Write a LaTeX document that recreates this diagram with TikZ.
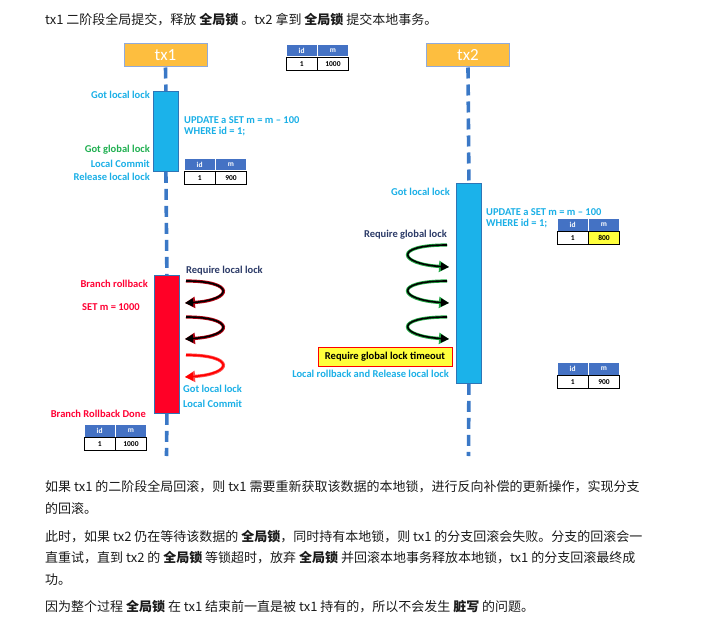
\documentclass[tikz,border=0pt]{standalone}
\usepackage{fontspec}
\setmainfont{Carlito}
\newfontfamily\cjk{Noto Sans CJK SC}
\usetikzlibrary{arrows.meta}
\definecolor{txorange}{HTML}{FDBE3F}
\definecolor{txline}{HTML}{8FAADC}
\definecolor{lifeblue}{HTML}{3A78C6}
\definecolor{barblue}{HTML}{1BB2EA}
\definecolor{barline}{HTML}{2E75B6}
\definecolor{barred}{HTML}{FF0026}
\definecolor{ltblue}{HTML}{1AAFE6}
\definecolor{okgreen}{HTML}{1FAF50}
\definecolor{navy}{HTML}{2B3A67}
\definecolor{txtred}{HTML}{FF0033}
\definecolor{hdrblue}{HTML}{4472C4}
\definecolor{hlyellow}{HTML}{FFFF3C}
\definecolor{glowgreen}{HTML}{22A845}
\definecolor{glowred}{HTML}{B00010}
\definecolor{cjkgray}{HTML}{1A1A1A}
\newcommand{\dtab}[5]{%
  \node[hcell] (#1h1) at (#2,#3) {id};
  \node[hcell] (#1h2) at (#1h1.north east) {m};
  \node[dcell] (#1d1) at (#1h1.south west) {1};
  \node[dcell, fill=#5] (#1d2) at (#1d1.north east) {#4};
}
\begin{document}
\begin{tikzpicture}[x=1pt,y=-1pt,
  txbox/.style={draw=txline, fill=txorange, line width=1pt, minimum width=83pt, minimum height=23pt, inner sep=0pt, text=white, font=\fontsize{17}{19}\selectfont},
  bluebar/.style={draw=barline, fill=barblue, line width=0.8pt, minimum width=25pt, inner sep=0pt, anchor=north west},
  redbar/.style={draw=barline, fill=barred, line width=0.8pt, minimum width=25pt, inner sep=0pt, anchor=north west},
  lifeline/.style={draw=lifeblue, line width=3.6pt, dash pattern=on 11pt off 6pt},
  lbl/.style={inner sep=0pt, font=\bfseries\fontsize{10.5}{12}\selectfont},
  hcell/.style={fill=hdrblue, draw=white, line width=0.8pt, text=white, minimum width=30.5pt, minimum height=12.5pt, inner sep=0pt, anchor=north west, font=\bfseries\fontsize{7.5}{8}\selectfont},
  dcell/.style={fill=white, draw=black, line width=0.8pt, text=black, minimum width=30.5pt, minimum height=12.5pt, inner sep=0pt, anchor=north west, font=\bfseries\fontsize{7.5}{8}\selectfont},
  cjktext/.style={inner sep=0pt, anchor=west, text=cjkgray, font=\cjk\fontsize{13}{15}\selectfont},
  glowg/.style={draw=glowgreen, line width=3.2pt, -{Triangle[length=10pt,width=11pt]}},
  glowr/.style={draw=glowred, line width=3.2pt, -{Triangle[length=10pt,width=11pt]}},
  glowlr/.style={draw=red!70!white, line width=3.2pt, -{Triangle[length=10pt,width=11pt]}},
  coreb/.style={draw=black, line width=1.6pt, -{Triangle[length=8pt,width=8pt]}},
  corer/.style={draw=red, line width=1.6pt, -{Triangle[length=8pt,width=8pt]}}
]
\useasboundingbox (0,0) rectangle (711,628);

% top text
\node[cjktext] (toptext) at (45,20) {tx1 二阶段全局提交，释放 \textbf{全局锁} 。tx2 拿到 \textbf{全局锁} 提交本地事务。};

% headers
\node[txbox] (tx1) at (165.5,55.5) {tx1};
\node[txbox] (tx2) at (468,55.5) {tx2};

% bars
\node[bluebar, minimum height=80pt] (bar1) at (153,91) {};
\node[redbar, minimum height=138pt] (bar2) at (154,275) {};
\node[bluebar, minimum height=200pt] (bar3) at (456,183) {};
\coordinate (end1) at (166.5,456);
\coordinate (end2) at (468.5,456);

% lifelines
\draw[lifeline] (tx1.south) -- (bar1.north);
\draw[lifeline] (bar1.south) -- (bar2.north);
\draw[lifeline] (bar2.south) -- (end1);
\draw[lifeline] (tx2.south) -- (bar3.north);
\draw[lifeline] (bar3.south) -- (end2);

% tables
\dtab{ta}{286}{44}{1000}{white}
\dtab{tb}{184}{158}{900}{white}
\dtab{tc}{557}{218}{800}{hlyellow}
\dtab{td}{557}{362}{900}{white}
\dtab{te}{84}{424}{1000}{white}

% tx1 commit labels
\node[lbl, text=ltblue, anchor=east] (l1) at (150,95) {Got local lock};
\node[lbl, text=ltblue, anchor=west] (l2) at (184,120) {UPDATE a SET m = m – 100};
\node[lbl, text=ltblue, anchor=west] (l3) at (184,131.5) {WHERE id = 1;};
\node[lbl, text=okgreen, anchor=east] (l4) at (150,150) {Got global lock};
\node[lbl, text=ltblue, anchor=east] (l5) at (150,164) {Local Commit};
\node[lbl, text=ltblue, anchor=east] (l6) at (150,177) {Release local lock};

% tx2 labels
\node[lbl, text=ltblue, anchor=east] (m1) at (450,192) {Got local lock};
\node[lbl, text=ltblue, anchor=west] (m2) at (486,212) {UPDATE a SET m = m – 100};
\node[lbl, text=ltblue, anchor=west] (m3) at (486,224) {WHERE id = 1;};
\node[lbl, text=navy, anchor=east] (m4) at (447,235) {Require global lock};
\node[lbl, text=black, draw=red, line width=1pt, fill=hlyellow, minimum width=134pt, minimum height=19pt] (m5) at (385,356.5) {Require global lock timeout};
\node[lbl, text=ltblue, anchor=east] (m6) at (449,374) {Local rollback and Release local lock};

% tx1 rollback labels
\node[lbl, text=txtred, anchor=east] (r1) at (148,284) {Branch rollback};
\node[lbl, text=txtred, anchor=west] (r2) at (82,307) {SET m = 1000};
\node[lbl, text=navy, anchor=west] (r3) at (186,271) {Require local lock};
\node[lbl, text=ltblue, anchor=west] (r4) at (183,389) {Got local lock};
\node[lbl, text=ltblue, anchor=west] (r5) at (183,404) {Local Commit};
\node[lbl, text=txtred, anchor=east] (r6) at (146,414) {Branch Rollback Done};

% green loops
\coordinate (g1a) at (447,245); \coordinate (g1b) at (449,267);
\coordinate (g2a) at (447,281); \coordinate (g2b) at (449,303);
\coordinate (g3a) at (447,317); \coordinate (g3b) at (449,339);
\foreach \p in {1,2,3}{
  \draw[glowg] (g\p a) .. controls +(-55,0) and +(-50,-3) .. (g\p b);
  \draw[coreb] (g\p a) .. controls +(-55,0) and +(-50,-3) .. (g\p b);
}

% red loops
\coordinate (q1a) at (186,281); \coordinate (q1b) at (185,303);
\coordinate (q2a) at (186,317); \coordinate (q2b) at (185,339);
\coordinate (q3a) at (186,355); \coordinate (q3b) at (185,377);
\foreach \p in {1,2}{
  \draw[glowr] (q\p a) .. controls +(50,0) and +(48,-3) .. (q\p b);
  \draw[coreb] (q\p a) .. controls +(50,0) and +(48,-3) .. (q\p b);
}
\draw[glowlr] (q3a) .. controls +(50,0) and +(48,-3) .. (q3b);
\draw[corer] (q3a) .. controls +(50,0) and +(48,-3) .. (q3b);

% bottom text
\node[cjktext] (p1) at (45,487) {如果 tx1 的二阶段全局回滚，则 tx1 需要重新获取该数据的本地锁，进行反向补偿的更新操作，实现分支};
\node[cjktext] (p2) at (45,509) {的回滚。};
\node[cjktext] (p3) at (45,537) {此时，如果 tx2 仍在等待该数据的 \textbf{全局锁}，同时持有本地锁，则 tx1 的分支回滚会失败。分支的回滚会一};
\node[cjktext] (p4) at (45,558) {直重试，直到 tx2 的 \textbf{全局锁} 等锁超时，放弃 \textbf{全局锁} 并回滚本地事务释放本地锁，tx1 的分支回滚最终成};
\node[cjktext] (p5) at (45,580) {功。};
\node[cjktext] (p6) at (45,607) {因为整个过程 \textbf{全局锁} 在 tx1 结束前一直是被 tx1 持有的，所以不会发生 \textbf{脏写} 的问题。};
\end{tikzpicture}
\end{document}
